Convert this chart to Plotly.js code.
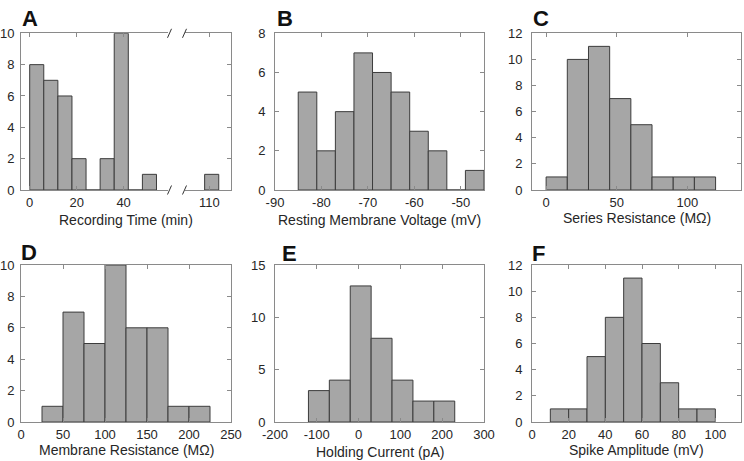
<!DOCTYPE html>
<html>
<head>
<meta charset="utf-8">
<script src="https://cdn.plot.ly/plotly-3.0.1.min.js"></script>
<style>html,body{margin:0;padding:0;background:#fff}#chart{width:744px;height:461px}</style>
</head>
<body>
<div id="chart"></div>
<script>
// Panel A: Recording Time (min), bin width 6
const recTimeBinLeft = [0, 6, 12, 18, 24, 30, 36, 42, 48, 108];
const recTimeCounts  = [8, 7, 6, 2, 0, 2, 10, 0, 1, 1];
const recTimeWidth = 6;
// Panel B: Resting Membrane Voltage (mV), bin width 4
const rmvBinLeft = [-85, -81, -77, -73, -69, -65, -61, -57, -53, -49];
const rmvCounts  = [5, 2, 4, 7, 6, 5, 3, 2, 0, 1];
const rmvWidth = 4;
// Panel C: Series Resistance (MOhm), bin width 15
const srBinLeft = [0, 15, 30, 45, 60, 75, 90, 105];
const srCounts  = [1, 10, 11, 7, 5, 1, 1, 1];
const srWidth = 15;
// Panel D: Membrane Resistance (MOhm), bin width 25
const mrBinLeft = [25, 50, 75, 100, 125, 150, 175, 200];
const mrCounts  = [1, 7, 5, 10, 6, 6, 1, 1];
const mrWidth = 25;
// Panel E: Holding Current (pA), bin width 50
const hcBinLeft = [-120, -70, -20, 30, 80, 130, 180];
const hcCounts  = [3, 4, 13, 8, 4, 2, 2];
const hcWidth = 50;
// Panel F: Spike Amplitude (mV), bin width 10
const saBinLeft = [10, 20, 30, 40, 50, 60, 70, 80, 90];
const saCounts  = [1, 1, 5, 8, 11, 6, 3, 1, 1];
const saWidth = 10;

// Tick labels
const aTicksLeft = [0, 20, 40];
const aTicksRight = [110];
const bTicks = [-90, -80, -70, -60, -50];
const bTickText = ['-90', '-80', '-70', '-60', '-50'];
const cTicks = [0, 50, 100];
const dTicks = [0, 50, 100, 150, 200, 250];
const eTicks = [-200, -100, 0, 100, 200, 300];
const eTickText = ['-200', '-100', '0', '100', '200', '300'];
const fTicks = [0, 20, 40, 60, 80, 100];

const titles = ['Recording Time (min)', 'Resting Membrane Voltage (mV)', 'Series Resistance (M\u03A9)',
                'Membrane Resistance (M\u03A9)', 'Holding Current (pA)', 'Spike Amplitude (mV)'];
const letters = ['A', 'B', 'C', 'D', 'E', 'F'];

const BAR = '#a6a6a6', EDGE = '#3c3c3c', AXC = '#8a8a8a', TXT = '#262626';
const FONT = 'Liberation Sans, Arial, sans-serif';

function hist(xa, ya, left, counts, w) {
  return {
    type: 'bar', xaxis: xa, yaxis: ya,
    x: left.map(v => v + w / 2), y: counts, width: w,
    marker: {color: BAR, line: {color: EDGE, width: 1}},
    hoverinfo: 'skip'
  };
}

const traces = [
  hist('x', 'y', recTimeBinLeft, recTimeCounts, recTimeWidth),
  hist('x2', 'y2', recTimeBinLeft, recTimeCounts, recTimeWidth),
  hist('x3', 'y3', rmvBinLeft, rmvCounts, rmvWidth),
  hist('x4', 'y4', srBinLeft, srCounts, srWidth),
  hist('x5', 'y5', mrBinLeft, mrCounts, mrWidth),
  hist('x6', 'y6', hcBinLeft, hcCounts, hcWidth),
  hist('x7', 'y7', saBinLeft, saCounts, saWidth)
];

const W = 744, H = 461;
const px = v => v / W;
const py = v => 1 - v / H;
const topRow = [py(190), py(33.3)];
const botRow = [py(422), py(265)];

function xax(domain, range, tickvals, anchor, extra) {
  return Object.assign({
    domain: domain, range: range, tickvals: tickvals, anchor: anchor,
    ticks: 'inside', ticklen: 4, tickcolor: AXC, showline: true, linecolor: AXC, linewidth: 1,
    mirror: 'ticks', showgrid: false, zeroline: false, fixedrange: true,
    tickfont: {family: FONT, size: 13, color: TXT}
  }, extra || {});
}
function yax(domain, range, dtick, anchor, extra) {
  return Object.assign({
    domain: domain, range: range, tick0: 0, dtick: dtick, anchor: anchor,
    ticks: 'inside', ticklen: 4, tickcolor: AXC, showline: true, linecolor: AXC, linewidth: 1,
    mirror: 'ticks', showgrid: false, zeroline: false, fixedrange: true, ticklabelstandoff: 6,
    tickfont: {family: FONT, size: 13, color: TXT}
  }, extra || {});
}

const layout = {
  width: W, height: H, margin: {l: 0, r: 0, t: 0, b: 0},
  paper_bgcolor: '#fff', plot_bgcolor: '#fff', showlegend: false, bargap: 0,
  font: {family: FONT, color: TXT},
  xaxis:  xax([px(21), px(168)], [-3.7, 58.9], aTicksLeft, 'y'),
  yaxis:  yax(topRow, [0, 10], 2, 'x', {mirror: false, ticklabelstandoff: 3}),
  xaxis2: xax([px(185), px(231)], [99.66, 119.2], aTicksRight, 'y2'),
  yaxis2: yax(topRow, [0, 10], 2, 'x2', {side: 'right', mirror: false, showticklabels: false}),
  xaxis3: xax([px(275), px(484)], [-90, -45], bTicks, 'y3', {ticktext: bTickText}),
  yaxis3: yax(topRow, [0, 8], 2, 'x3'),
  xaxis4: xax([px(532), px(741)], [-10, 138], cTicks, 'y4'),
  yaxis4: yax(topRow, [0, 12], 2, 'x4'),
  xaxis5: xax([px(21), px(231)], [0, 250], dTicks, 'y5'),
  yaxis5: yax(botRow, [0, 10], 2, 'x5', {ticklabelstandoff: 3}),
  xaxis6: xax([px(275), px(484)], [-200, 300], eTicks, 'y6', {ticktext: eTickText}),
  yaxis6: yax(botRow, [0, 15], 5, 'x6'),
  xaxis7: xax([px(532), px(741)], [0, 114], fTicks, 'y7'),
  yaxis7: yax(botRow, [0, 12], 2, 'x7'),
  annotations: [],
  shapes: []
};

// axis titles
const titleRefs = [
  {xref: 'paper', x: px(126), yref: 'y domain', dy: 30},
  {xref: 'x3 domain', x: 0.5, yref: 'y3 domain', dy: 30},
  {xref: 'x4 domain', x: 0.5, yref: 'y4 domain', dy: 28},
  {xref: 'x5 domain', x: 0.5, yref: 'y5 domain', dy: 28},
  {xref: 'x6 domain', x: 0.5, yref: 'y6 domain', dy: 30},
  {xref: 'x7 domain', x: 0.5, yref: 'y7 domain', dy: 28}
];
titleRefs.forEach((t, i) => {
  layout.annotations.push({
    text: titles[i], xref: t.xref, x: t.x, yref: t.yref, y: 0, yshift: -t.dy,
    xanchor: 'center', yanchor: 'middle', showarrow: false,
    font: {family: FONT, size: 14, color: TXT}
  });
});

// panel letters
const letterPos = [[20, 4], [275, 4], [531, 4], [19, 238], [280, 239], [530, 239]];
letterPos.forEach((p, i) => {
  layout.annotations.push({
    text: '<b>' + letters[i] + '</b>', xref: 'paper', yref: 'paper',
    x: px(p[0]), y: py(p[1]), xanchor: 'left', yanchor: 'top', showarrow: false,
    font: {family: FONT, size: 22, color: '#111'}
  });
});

// axis break marks for panel A
[169.5, 184.5].forEach(xc => {
  [33.3, 190].forEach(yc => {
    layout.shapes.push({
      type: 'line', xref: 'paper', yref: 'paper',
      x0: px(xc - 2), y0: py(yc + 4.5), x1: px(xc + 2), y1: py(yc - 4.5),
      line: {color: '#333', width: 1}
    });
  });
});

Plotly.newPlot('chart', traces, layout, {staticPlot: true, displayModeBar: false});
</script>
</body>
</html>
